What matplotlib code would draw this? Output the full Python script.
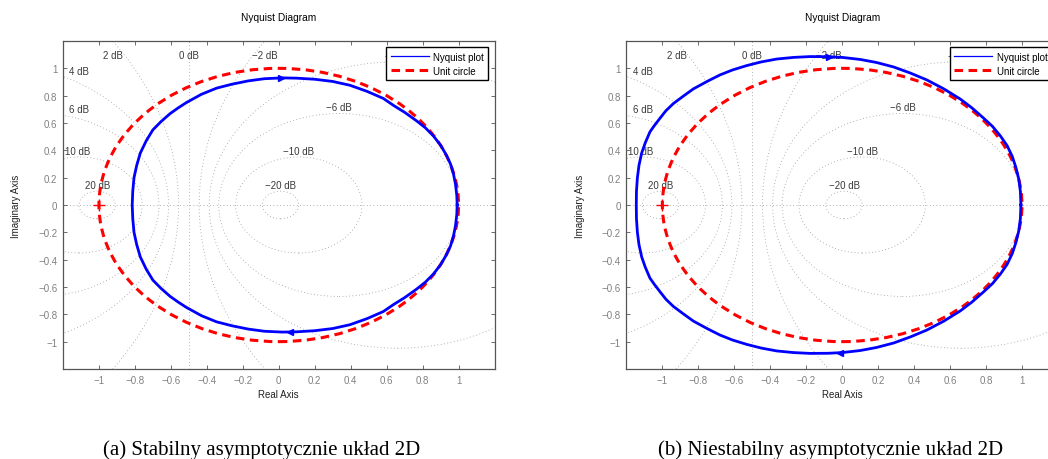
import numpy as np
import matplotlib
matplotlib.use('Agg')
import matplotlib.pyplot as plt
from matplotlib.patches import Circle
from matplotlib.lines import Line2D

plt.rcParams['font.family'] = ['Liberation Sans', 'DejaVu Sans']

# upper branch of each Nyquist curve (right -> left), lower branch is its mirror
stable_re = [0.992, 0.990, 0.983, 0.972, 0.955, 0.932, 0.900, 0.860, 0.815, 0.766,
             0.700, 0.640, 0.581, 0.490, 0.396, 0.300, 0.200, 0.100, 0.020, -0.080,
             -0.170, -0.260, -0.346, -0.430, -0.513, -0.560, -0.605, -0.655, -0.700,
             -0.737, -0.770, -0.790, -0.805, -0.812, -0.815]
stable_im = [0.000, 0.070, 0.150, 0.225, 0.300, 0.365, 0.437, 0.505, 0.565, 0.616,
             0.678, 0.727, 0.780, 0.832, 0.876, 0.904, 0.920, 0.928, 0.930, 0.924,
             0.908, 0.884, 0.855, 0.810, 0.750, 0.710, 0.668, 0.610, 0.550,
             0.470, 0.380, 0.290, 0.200, 0.100, 0.000]

unstable_re = [0.994, 0.991, 0.982, 0.966, 0.946, 0.917, 0.880, 0.836, 0.787, 0.722,
               0.657, 0.565, 0.471, 0.380, 0.286, 0.190, 0.100, 0.000, -0.076, -0.178,
               -0.270, -0.364, -0.450, -0.531, -0.610, -0.679, -0.750, -0.827, -0.885,
               -0.939, -0.980, -1.013, -1.045, -1.069, -1.095, -1.115, -1.130, -1.139,
               -1.144, -1.145]
unstable_im = [0.000, 0.100, 0.190, 0.275, 0.355, 0.435, 0.505, 0.575, 0.635, 0.710,
               0.775, 0.850, 0.915, 0.965, 1.010, 1.043, 1.065, 1.080, 1.085, 1.086,
               1.080, 1.068, 1.047, 1.020, 0.988, 0.952, 0.905, 0.850, 0.795,
               0.742, 0.690, 0.635, 0.580, 0.535, 0.455, 0.380, 0.290, 0.198,
               0.100, 0.000]

# arrow marks: (x_top, y_top, x_bottom, y_bottom)
stable_arrows = [0.015, 0.930, 0.065, -0.930]
unstable_arrows = [-0.075, 1.085, -0.010, -1.086]

unit_radius = 1.0
critical_point = (-1.0, 0.0)

db_levels = [-20, -10, -6, -4, -2, 0, 2, 4, 6, 10, 20]
db_label_pos = {-20: (0.012, 0.146), -10: (0.112, 0.393), -6: (0.335, 0.715),
                -4: (0.662, 1.093), -2: (-0.077, 1.098), 0: (-0.5, 1.098),
                2: (-0.92, 1.098), 4: (-1.11, 0.983), 6: (-1.11, 0.702),
                10: (-1.12, 0.393), 20: (-1.008, 0.146)}

ticks = [-1, -0.8, -0.6, -0.4, -0.2, 0, 0.2, 0.4, 0.6, 0.8, 1]
captions = ['(a) Stabilny asymptotycznie układ 2D',
            '(b) Niestabilny asymptotycznie układ 2D']


def tick_text(v):
    s = '%g' % round(v, 3)
    return '0' if s in ('0', '-0') else s.replace('-', '\u2212')


def nyquist_panel(ax, re, im, arrows):
    grid_kw = dict(color='#9a9a9a', lw=0.6, linestyle=(0, (1, 3)), zorder=1)
    for db in db_levels:
        if db == 0:
            ax.axvline(-0.5, **grid_kw)
        else:
            m2 = 10 ** (db / 10)
            m = 10 ** (db / 20)
            c = Circle((-m2 / (m2 - 1), 0), abs(m / (m2 - 1)), fill=False, **grid_kw)
            ax.add_patch(c)
        lx, ly = db_label_pos[db]
        ax.text(lx, ly, ('%d dB' % db).replace('-', '\u2212'), fontsize=7,
                color='#3a3a3a', ha='center', va='center', zorder=2)
    ax.axhline(0, **grid_kw)

    re = np.asarray(re)
    im = np.asarray(im)
    x = np.concatenate([re, re[::-1]])
    y = np.concatenate([im, -im[::-1]])
    ax.plot(x, y, color='#0000ff', lw=2, zorder=4, solid_joinstyle='round')
    ax.plot(arrows[0], arrows[1], marker='>', color='#0000ff', ms=5, zorder=5)
    ax.plot(arrows[2], arrows[3], marker='<', color='#0000ff', ms=5, zorder=5)

    ax.add_patch(Circle((0, 0), unit_radius, fill=False, color='#ff0000', lw=2.2,
                        linestyle=(0, (2.8, 1.8)), zorder=3))
    ax.plot(*critical_point, marker='+', color='#ff0000', ms=8, mew=1, zorder=5)

    ax.set_xlim(-1.2, 1.2)
    ax.set_ylim(-1.2, 1.2)
    ax.set_xticks(ticks)
    ax.set_yticks(ticks)
    ax.set_xticklabels([tick_text(t) for t in ticks])
    ax.set_yticklabels([tick_text(t) for t in ticks])
    ax.tick_params(direction='in', top=True, right=True, length=3, width=0.6,
                   color='#555555', labelcolor='#808080', labelsize=7, pad=4)
    for sp in ax.spines.values():
        sp.set_color('#555555')
        sp.set_linewidth(0.9)

    ax.set_title('Nyquist Diagram', fontsize=7.3, pad=15)
    ax.set_xlabel('Real Axis', fontsize=7, color='#222222', va='center')
    ax.set_ylabel('Imaginary Axis', fontsize=7, color='#222222', va='center')
    ax.xaxis.set_label_coords(0.5, -0.076)
    ax.yaxis.set_label_coords(-0.108, 0.5)

    handles = [Line2D([], [], color='#0000ff', lw=0.9),
               Line2D([], [], color='#ff0000', lw=2.2, linestyle=(0, (2.8, 1.8)))]
    leg = ax.legend(handles, ['Nyquist plot', 'Unit circle'], loc='upper right',
                    fontsize=7, fancybox=False, framealpha=1, edgecolor='black',
                    handlelength=3.9, handletextpad=0.45, labelspacing=0.4,
                    borderpad=0.45, borderaxespad=0.65)
    leg.get_frame().set_linewidth(1.0)
    leg.set_zorder(10)


fig = plt.figure(figsize=(10.48, 4.6), dpi=100)
ax1 = fig.add_axes([0.0601, 0.1957, 0.4118, 0.713])
ax2 = fig.add_axes([0.5977, 0.1957, 0.4118, 0.713])

nyquist_panel(ax1, stable_re, stable_im, stable_arrows)
nyquist_panel(ax2, unstable_re, unstable_im, unstable_arrows)

fig.text(262 / 1048, 1 - 455 / 460, captions[0], fontsize=15, ha='center',
         va='baseline', family=['Liberation Serif', 'DejaVu Serif'])
fig.text(831 / 1048, 1 - 455 / 460, captions[1], fontsize=15, ha='center',
         va='baseline', family=['Liberation Serif', 'DejaVu Serif'])

fig.savefig('out.png', dpi=100)
